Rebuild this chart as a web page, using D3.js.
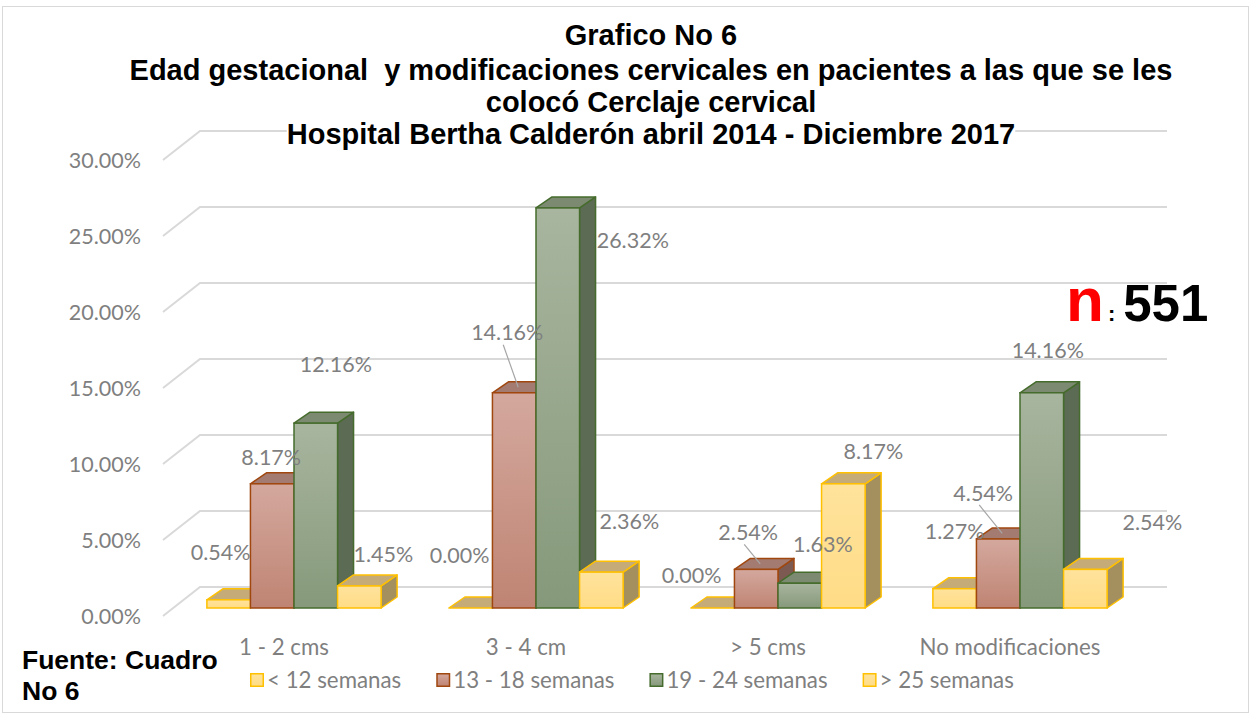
<!DOCTYPE html>
<html>
<head>
<meta charset="utf-8">
<style>
  body { margin: 0; background: #fff; }
  svg  { display: block; }
  .lbl { font-family: Lato, "Open Sans", sans-serif; fill: #7f7f7f; }
  .ttl { font-family: "Liberation Sans", Arial, sans-serif; font-weight: bold; fill: #000; white-space: pre; }
</style>
<title>Grafico No 6</title>
</head>
<body>
<script src="https://cdn.jsdelivr.net/npm/d3@7/dist/d3.min.js"></script>
<script>

// data (percent)
var categories = ["1 - 2 cms", "3 - 4 cm", "> 5 cms", "No modificaciones"];
var seriesNames = ["< 12 semanas", "13 - 18 semanas", "19 - 24 semanas", "> 25 semanas"];
var lt12   = [0.54, 0.00, 0.00, 1.27];
var s13_18 = [8.17, 14.16, 2.54, 4.54];
var s19_24 = [12.16, 26.32, 1.63, 14.16];
var gt25   = [1.45, 2.36, 8.17, 2.54];
var yTicks = [0, 5, 10, 15, 20, 25, 30];
var titleLines = ["Grafico No 6",
  "Edad gestacional  y modificaciones cervicales en pacientes a las que se les",
  "colocó Cerclaje cervical",
  "Hospital Bertha Calderón abril 2014 - Diciembre 2017"];

// hand-placed data labels (offset from bar top centre), as in the original
var labelNudge = [
  [[-8, -47], [-11, -53], [-21, -33], [0, -57]],
  [[-1, -26], [-7, -60], [-8, -37], [-15, -46]],
  [[20, -59], [75, 33], [23, -39], [6, -42]],
  [[24, -31], [28, -51], [30, -32], [67, -47]]
];
var leader = [
  [false, false, false, false],
  [false, true, true, true],
  [false, false, false, false],
  [false, false, false, false]
];

var values = [lt12, s13_18, s19_24, gt25];

var styles = [
  { top: "#ffe39c", bot: "#ffdc86", stroke: "#ffc000", cap: "#c4ab78", side: "#a48f5e" },
  { top: "#d4a89e", bot: "#bf8473", stroke: "#a0470f", cap: "#a47b70", side: "#7c5a52" },
  { top: "#a8b59f", bot: "#86997a", stroke: "#466c2d", cap: "#7d8a72", side: "#5c6b54" },
  { top: "#ffe39c", bot: "#ffdc86", stroke: "#ffc000", cap: "#c4ab78", side: "#a48f5e" }
];

var W = 1252, H = 715;
var svg = d3.select("body").append("svg")
    .attr("width", W).attr("height", H);

var defs = svg.append("defs");
styles.forEach(function(s, i) {
  var g = defs.append("linearGradient").attr("id", "gr" + i)
      .attr("x1", 0).attr("y1", 0).attr("x2", 0).attr("y2", 1);
  g.append("stop").attr("offset", "0%").attr("stop-color", s.top);
  g.append("stop").attr("offset", "100%").attr("stop-color", s.bot);
});

// outer frame
svg.append("rect")
    .attr("x", 2.5).attr("y", 6.5).attr("width", 1246).attr("height", 706)
    .attr("fill", "#fff").attr("stroke", "#d9d9d9");

// scales
var y = d3.scaleLinear().domain([0, 30]).range([608, 152]);
var x0 = d3.scaleBand().domain(categories).range([173, 1141])
    .paddingInner(0.28).paddingOuter(0.14);
var x1 = d3.scaleBand().domain(d3.range(seriesNames.length)).range([0, x0.bandwidth()]);

var depth = { dx: 16, dy: -11 };
var wall = { frontX: 163, backX: 200, right: 1167, front: 8, back: -21 };

// gridlines (3D floor/back wall)
svg.append("g").selectAll("path")
  .data(yTicks)
  .join("path")
    .attr("d", function(t) {
      var yf = y(t) + wall.front, yb = y(t) + wall.back;
      return "M" + wall.frontX + "," + yf + "L" + wall.backX + "," + yb + "L" + wall.right + "," + yb;
    })
    .attr("fill", "none").attr("stroke", "#d9d9d9").attr("stroke-width", 2);

// y axis labels
svg.append("g").selectAll("text")
  .data(yTicks)
  .join("text")
    .attr("class", "lbl")
    .attr("x", 141).attr("y", function(t) { return y(t) + wall.front; })
    .attr("dy", "0.35em").attr("text-anchor", "end")
    .style("font-size", "21.5px")
    .text(function(t) { return d3.format(".2f")(t) + "%"; });

// bars
var bars = svg.append("g");
categories.forEach(function(c, ci) {
  values.forEach(function(vals, si) {
    var v = vals[ci], s = styles[si];
    var xl = x0(c) + x1(si), xr = xl + x1.bandwidth();
    var yt = y(v), yb = y(0);
    var dx = depth.dx, dy = depth.dy;
    var g = bars.append("g");
    // side
    g.append("path")
        .attr("d", "M" + xr + "," + yt + "L" + (xr + dx) + "," + (yt + dy) +
                   "L" + (xr + dx) + "," + (yb + dy) + "L" + xr + "," + yb + "Z")
        .attr("fill", s.side).attr("stroke", s.stroke).attr("stroke-width", 1.5)
        .attr("stroke-linejoin", "round");
    // top
    g.append("path")
        .attr("d", "M" + xl + "," + yt + "L" + (xl + dx) + "," + (yt + dy) +
                   "L" + (xr + dx) + "," + (yt + dy) + "L" + xr + "," + yt + "Z")
        .attr("fill", s.cap).attr("stroke", s.stroke).attr("stroke-width", 1.5)
        .attr("stroke-linejoin", "round");
    // front
    if (yb - yt > 0.5) {
      g.append("rect")
          .attr("x", xl).attr("y", yt).attr("width", xr - xl).attr("height", yb - yt)
          .attr("fill", "url(#gr" + si + ")").attr("stroke", s.stroke).attr("stroke-width", 1.5);
    }
  });
});

// data labels
var labels = svg.append("g");
categories.forEach(function(c, ci) {
  values.forEach(function(vals, si) {
    var v = vals[ci];
    var cx = x0(c) + x1(si) + x1.bandwidth() / 2;
    var lx = cx + labelNudge[si][ci][0], ly = y(v) + labelNudge[si][ci][1];
    if (leader[si][ci]) {
      labels.append("line")
          .attr("x1", lx - 4).attr("y1", ly + 12)
          .attr("x2", cx + depth.dx / 2 - 4).attr("y2", y(v) + depth.dy / 2)
          .attr("stroke", "#a6a6a6").attr("stroke-width", 1.2);
    }
    labels.append("text")
        .attr("class", "lbl")
        .attr("x", lx).attr("y", ly).attr("dy", "0.35em")
        .attr("text-anchor", "middle")
        .style("font-size", "21.5px")
        .text(d3.format(".2f")(v) + "%");
  });
});

// category labels
svg.append("g").selectAll("text")
  .data(categories)
  .join("text")
    .attr("class", "lbl")
    .attr("x", function(c) { return x0(c) + x0.bandwidth() / 2 - 10; })
    .attr("y", 647).attr("dy", "0.35em")
    .attr("text-anchor", "middle")
    .style("font-size", "22.3px")
    .text(function(c) { return c; });

// legend
var leg = svg.append("g");
var lx = 250;
seriesNames.forEach(function(n, i) {
  var s = styles[i];
  leg.append("rect")
      .attr("x", lx + 0.75).attr("y", 673.75).attr("width", 12.5).attr("height", 12.5)
      .attr("fill", "url(#gr" + i + ")").attr("stroke", s.stroke).attr("stroke-width", 1.5);
  var t = leg.append("text")
      .attr("class", "lbl")
      .attr("x", lx + 17).attr("y", 680).attr("dy", "0.35em")
      .style("font-size", "22.3px")
      .text(n);
  lx += 17 + t.node().getComputedTextLength() + 35;
});

// title, each line on its own white box
var ttl = svg.append("g");
var titleY = [35, 70, 102, 134];
titleLines.forEach(function(line, i) {
  var t = ttl.append("text")
      .attr("class", "ttl")
      .attr("x", 651).attr("y", titleY[i]).attr("dy", "0.35em")
      .attr("text-anchor", "middle")
      .style("font-size", "29px")
      .text(line);
  var bb = t.node().getBBox();
  ttl.insert("rect", function() { return t.node(); })
      .attr("x", bb.x).attr("y", bb.y + 5).attr("width", bb.width).attr("height", bb.height - 8)
      .attr("fill", "#fff");
});

// n: 551
var nt = svg.append("text")
    .attr("class", "ttl")
    .attr("x", 1066).attr("y", 321);
nt.append("tspan").attr("fill", "#ff0000").style("font-size", "62px").text("n");
nt.append("tspan").style("font-size", "22px").attr("dx", 4).text(":");
nt.append("tspan").style("font-size", "51px").attr("dx", 8).text("551");

// source note
var src = svg.append("text")
    .attr("class", "ttl")
    .style("font-size", "26.5px");
src.append("tspan").attr("x", 22).attr("y", 669).text("Fuente: Cuadro");
src.append("tspan").attr("x", 22).attr("y", 700).text("No 6");

</script>
</body>
</html>
